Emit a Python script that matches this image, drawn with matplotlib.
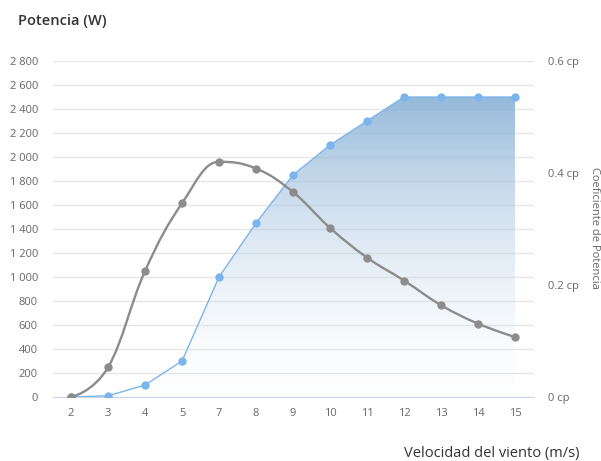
import numpy as np
import matplotlib.pyplot as plt
from matplotlib.path import Path
from matplotlib.patches import PathPatch, Polygon

plt.rcParams['font.family'] = ['Open Sans', 'DejaVu Sans']

# wind speed categories (no 6 m/s in the table)
speeds = ['2', '3', '4', '5', '7', '8', '9', '10', '11', '12', '13', '14', '15']
power = [0, 10, 100, 300, 1000, 1450, 1850, 2100, 2300, 2500, 2500, 2500, 2500]
cp = [0.0, 0.053, 0.225, 0.346, 0.42, 0.408, 0.366, 0.302, 0.249, 0.208, 0.164, 0.131, 0.107]

power_ticks = list(range(0, 2801, 200))
cp_ticks = [0, 0.2, 0.4, 0.6]

BLUE = '#7cb5ec'
GREY = '#8c8c8c'
LABEL = '#666666'


def spline_path(xs, ys, smoothing=1.5):
    # smooth curve through the points using cubic bezier segments
    n = len(xs)
    lc = [None] * n
    rc = [None] * n
    d = smoothing + 1
    for i in range(1, n - 1):
        x0, y0 = xs[i - 1], ys[i - 1]
        x, y = xs[i], ys[i]
        x1, y1 = xs[i + 1], ys[i + 1]
        lx = (smoothing * x + x0) / d
        ly = (smoothing * y + y0) / d
        rx = (smoothing * x + x1) / d
        ry = (smoothing * y + y1) / d
        corr = (ry - ly) * (rx - x) / (rx - lx) + y - ry
        ly += corr
        ry += corr
        if ly > y0 and ly > y:
            ly = max(y0, y); ry = 2 * y - ly
        elif ly < y0 and ly < y:
            ly = min(y0, y); ry = 2 * y - ly
        if ry > y1 and ry > y:
            ry = max(y1, y); ly = 2 * y - ry
        elif ry < y1 and ry < y:
            ry = min(y1, y); ly = 2 * y - ry
        lc[i] = (lx, ly)
        rc[i] = (rx, ry)
    verts = [(xs[0], ys[0])]
    codes = [Path.MOVETO]
    for i in range(1, n):
        c1 = rc[i - 1] or (xs[i - 1], ys[i - 1])
        c2 = lc[i] or (xs[i], ys[i])
        verts += [c1, c2, (xs[i], ys[i])]
        codes += [Path.CURVE4] * 3
    return Path(verts, codes)


fig = plt.figure(figsize=(6.01, 4.61), dpi=100)
ax = fig.add_axes([0.0874, 0.1388, 0.8003, 0.7289])
x = np.arange(len(speeds))

ax.set_xlim(-0.5, len(speeds) - 0.5)
ax.set_ylim(0, 2800)
ax.set_yticks(power_ticks)
ax.set_yticklabels([f'{v:,}'.replace(',', ' ') for v in power_ticks])
ax.set_xticks(x)
ax.set_xticklabels(speeds)
ax.grid(axis='y', color='#e6e6e6', linewidth=1)
ax.set_axisbelow(True)
for s in ['top', 'right', 'left']:
    ax.spines[s].set_visible(False)
ax.spines['bottom'].set_color('#ccd6eb')
ax.tick_params(length=0, colors=LABEL, labelsize=8)
ax.tick_params(axis='y', pad=10.5)
ax.tick_params(axis='x', pad=8)

# gradient filled area under the power curve
poly = Polygon(np.column_stack([np.r_[x, x[-1], x[0]], np.r_[power, 0, 0]]),
               closed=True, facecolor='none', edgecolor='none')
ax.add_patch(poly)
grad = np.zeros((256, 2, 4))
t = np.linspace(1, 0, 256)[:, None]
grad[..., 0] = (110 + (1 - t) * 130) / 255
grad[..., 1] = (160 + (1 - t) * 85) / 255
grad[..., 2] = (205 + (1 - t) * 45) / 255
grad[..., 3] = 0.85 * t + 0.05
img = ax.imshow(grad, extent=[-0.5, len(speeds) - 0.5, 0, 2800], aspect='auto',
                origin='upper', zorder=1)
img.set_clip_path(poly)

ax.plot(x, power, color=BLUE, linewidth=1, marker='o', markersize=6,
        markeredgewidth=0, zorder=3)

ax2 = ax.twinx()
ax2.set_ylim(0, 0.6)
ax2.set_yticks(cp_ticks)
ax2.set_yticklabels([f'{v:g} cp' for v in cp_ticks])
for s in ax2.spines.values():
    s.set_visible(False)
ax2.tick_params(length=0, colors=LABEL, labelsize=8, pad=10.5)
ax2.add_patch(PathPatch(spline_path(x, cp), facecolor='none', edgecolor=GREY,
                        linewidth=1.7, zorder=3))
ax2.plot(x, cp, linestyle='none', color=GREY, marker='o', markersize=6,
         markeredgewidth=0, zorder=4)
ax2.set_xlim(-0.5, len(speeds) - 0.5)

fig.text(18 / 601, 1 - 21 / 461, 'Potencia (W)', fontsize=10.5, color='#333333',
         fontweight='semibold', va='center', ha='left')
fig.text(580 / 601, 1 - 453 / 461, 'Velocidad del viento (m/s)', fontsize=10.5,
         color='#333333', va='center', ha='right')
fig.text(595 / 601, 1 - 228 / 461, 'Coeficiente de Potencia', fontsize=8,
         color=LABEL, rotation=-90, va='center', ha='center')

fig.savefig('out.png', dpi=100)
